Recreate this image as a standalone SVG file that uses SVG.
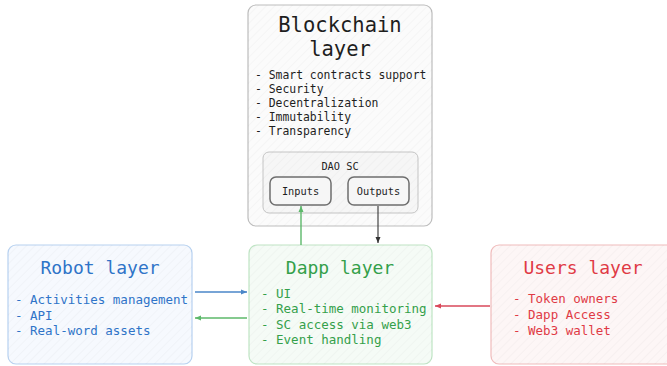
<svg xmlns="http://www.w3.org/2000/svg" width="667" height="366" viewBox="0 0 667 366">
<defs>
<pattern id="hatch" patternUnits="userSpaceOnUse" width="6" height="6" patternTransform="rotate(45)">
<line x1="0" y1="0" x2="0" y2="6" stroke="#000" stroke-opacity="0.025" stroke-width="2"/>
</pattern>
<marker id="ahb" markerWidth="8" markerHeight="8" refX="6" refY="4" orient="auto" markerUnits="userSpaceOnUse"><path d="M0,1.5 L6,4 L0,6.5 Z" fill="#4a86c8"/></marker>
<marker id="ahg" markerWidth="8" markerHeight="8" refX="6" refY="4" orient="auto" markerUnits="userSpaceOnUse"><path d="M0,1.5 L6,4 L0,6.5 Z" fill="#5cb86a"/></marker>
<marker id="ahr" markerWidth="8" markerHeight="8" refX="6" refY="4" orient="auto" markerUnits="userSpaceOnUse"><path d="M0,1.5 L6,4 L0,6.5 Z" fill="#d9485a"/></marker>
<marker id="ahk" markerWidth="8" markerHeight="8" refX="6" refY="4" orient="auto" markerUnits="userSpaceOnUse"><path d="M0,1.5 L6,4 L0,6.5 Z" fill="#333"/></marker>
</defs>
<style>
text { font-family: "DejaVu Sans Mono", "Liberation Mono", monospace; }
.title { font-size: 18px; text-anchor: middle; }
.btitle { font-size: 20.5px; text-anchor: middle; fill: #1e1e1e; }
.item { font-size: 12.5px; }
.bitem { font-size: 11.4px; fill: #1e1e1e; }
.small { font-size: 10.3px; fill: #1e1e1e; text-anchor: middle; }
.hatch { fill: url(#hatch); stroke: none; }
</style>
<rect width="667" height="366" fill="#ffffff"/>

<g id="blockchain">
<rect x="248" y="5" width="184" height="221" rx="8" fill="#fbfbfb" stroke="#bdbdbd" stroke-width="1.2"/>
<rect x="248" y="5" width="184" height="221" rx="8" class="hatch"/>
<text class="btitle" x="340" y="32">Blockchain</text>
<text class="btitle" x="340" y="56">layer</text>
<text class="bitem" x="255" y="79">- Smart contracts support</text>
<text class="bitem" x="255" y="93">- Security</text>
<text class="bitem" x="255" y="107">- Decentralization</text>
<text class="bitem" x="255" y="121">- Immutability</text>
<text class="bitem" x="255" y="135">- Transparency</text>
</g>

<g id="dao">
<rect x="263" y="152" width="155" height="61" rx="6" fill="#f6f6f6" stroke="#c4c4c4" stroke-width="1"/>
<rect x="263" y="152" width="155" height="61" rx="6" class="hatch"/>
<text class="small" x="340" y="170">DAO SC</text>
</g>

<g id="inputs">
<rect x="270" y="177" width="61" height="28" rx="6" fill="#f6f6f6" stroke="#6e6e6e" stroke-width="1.5"/>
<text class="small" x="300.5" y="195">Inputs</text>
</g>

<g id="outputs">
<rect x="348" y="177" width="61" height="28" rx="6" fill="#f6f6f6" stroke="#6e6e6e" stroke-width="1.5"/>
<text class="small" x="378.5" y="195">Outputs</text>
</g>

<g id="robot">
<rect x="8" y="245" width="184" height="119" rx="8" fill="#f6f9fe" stroke="#b7d1f0" stroke-width="1.2"/>
<rect x="8" y="245" width="184" height="119" rx="8" class="hatch"/>
<text class="title" x="100" y="274" fill="#2f74c8">Robot layer</text>
<text class="item" x="15" y="303.5" fill="#2f74c8">- Activities management</text>
<text class="item" x="15" y="319.5" fill="#2f74c8">- API</text>
<text class="item" x="15" y="334.5" fill="#2f74c8">- Real-word assets</text>
</g>

<g id="dapp">
<rect x="249" y="245" width="183" height="119" rx="8" fill="#f5fbf6" stroke="#bfe4c4" stroke-width="1.2"/>
<rect x="249" y="245" width="183" height="119" rx="8" class="hatch"/>
<text class="title" x="340" y="274" fill="#34a04a">Dapp layer</text>
<text class="item" x="261" y="297.5" fill="#34a04a">- UI</text>
<text class="item" x="261" y="312.5" fill="#34a04a">- Real-time monitoring</text>
<text class="item" x="261" y="328.5" fill="#34a04a">- SC access via web3</text>
<text class="item" x="261" y="343.5" fill="#34a04a">- Event handling</text>
</g>

<g id="users">
<rect x="491" y="245" width="190" height="119" rx="8" fill="#fdf6f6" stroke="#f0bcbc" stroke-width="1.2"/>
<rect x="491" y="245" width="190" height="119" rx="8" class="hatch"/>
<text class="title" x="583" y="274" fill="#e03a45">Users layer</text>
<text class="item" x="513" y="302.5" fill="#e03a45">- Token owners</text>
<text class="item" x="513" y="318.5" fill="#e03a45">- Dapp Access</text>
<text class="item" x="513" y="334.5" fill="#e03a45">- Web3 wallet</text>
</g>

<g id="connectors" fill="none" stroke-width="1.4">
<line x1="301" y1="245" x2="301" y2="206" stroke="#5cb86a" marker-end="url(#ahg)"/>
<line x1="378" y1="206" x2="378" y2="243" stroke="#333" stroke-width="1.1" marker-end="url(#ahk)"/>
<line x1="195" y1="292" x2="247" y2="292" stroke="#4a86c8" marker-end="url(#ahb)"/>
<line x1="247" y1="318" x2="195" y2="318" stroke="#5cb86a" marker-end="url(#ahg)"/>
<line x1="490" y1="306" x2="435" y2="306" stroke="#d9485a" marker-end="url(#ahr)"/>
</g>
</svg>
